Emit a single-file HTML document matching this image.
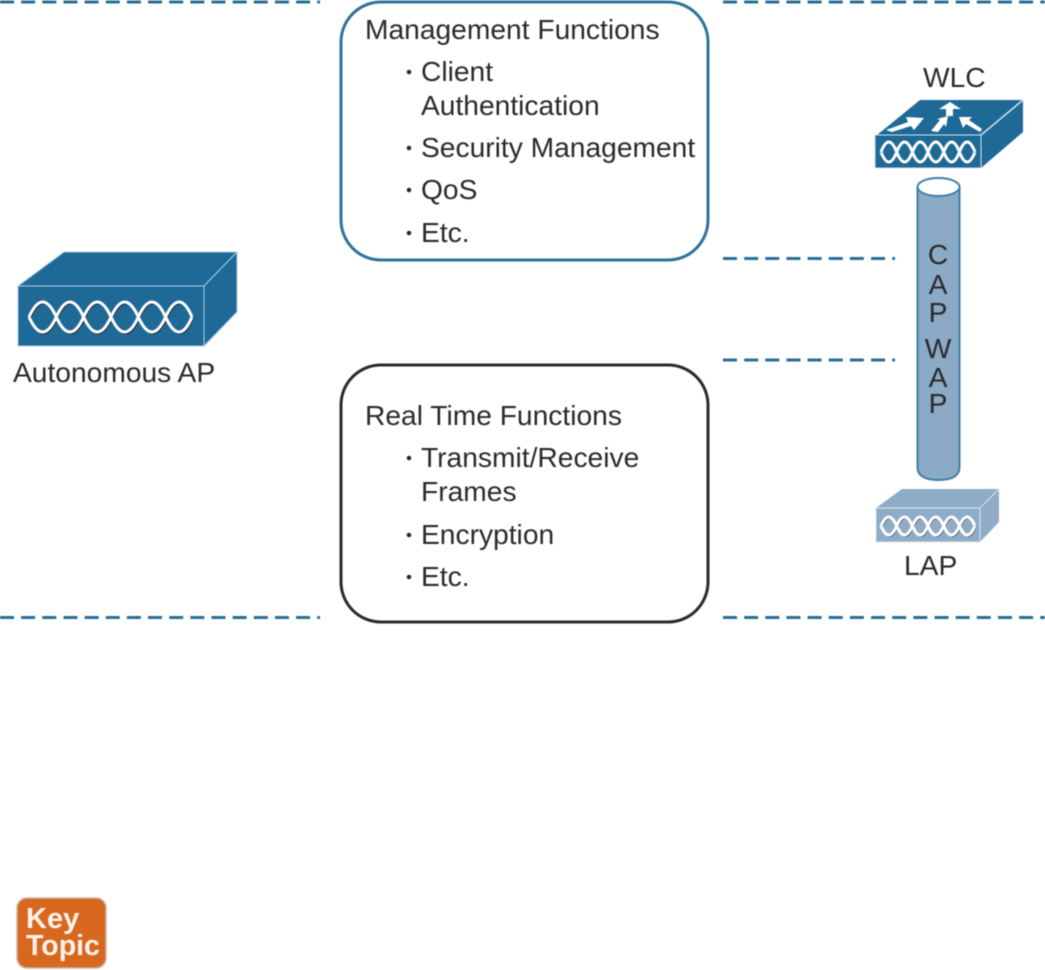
<!DOCTYPE html>
<html><head><meta charset="utf-8"><style>
html,body{margin:0;padding:0;background:#fff;width:1045px;height:970px;overflow:hidden}
svg{display:block;filter:blur(.4px)}
text{font-family:"Liberation Sans",sans-serif;font-size:28.2px;fill:#2a2a2a}
.d{stroke:#2a6d96;stroke-width:3;stroke-dasharray:14 7.15;fill:none}
.w{fill:none;stroke:#fff;stroke-width:3}
.s{fill:none;stroke:#222;stroke-width:1.6}
</style></head><body>
<svg width="1045" height="970" viewBox="0 0 1045 970" xmlns="http://www.w3.org/2000/svg">
<path class="d" d="M0 2H320M723 2H1045M723 258.500H895M723 360H895M0 617.500H320M723 617.500H1045"/>

<rect x="341" y="2" width="367" height="258" rx="40" fill="#fff" stroke="#2f739c" stroke-width="3"/>
<rect x="341" y="365" width="367" height="257" rx="40" fill="#fff" stroke="#2b2b2b" stroke-width="3"/>

<g fill="#2a2a2a">
<circle cx="409" cy="72" r="2.300"/><circle cx="409" cy="148" r="2.300"/><circle cx="409" cy="190" r="2.300"/><circle cx="409" cy="233" r="2.300"/>
<circle cx="409" cy="458" r="2.300"/><circle cx="409" cy="535" r="2.300"/><circle cx="409" cy="577" r="2.300"/>
</g>
<text x="365" y="39">Management Functions</text>
<text x="421" y="81">Client</text>
<text x="421" y="115">Authentication</text>
<text x="421" y="157">Security Management</text>
<text x="421" y="199">QoS</text>
<text x="421" y="242">Etc.</text>

<text x="365" y="425">Real Time Functions</text>
<text x="421" y="467">Transmit/Receive</text>
<text x="421" y="501">Frames</text>
<text x="421" y="544">Encryption</text>
<text x="421" y="586">Etc.</text>

<!-- Autonomous AP -->
<polygon points="18,286 64,252 237,252 204,286" fill="#1f6997" stroke="#a9cfe2" stroke-width="1"/>
<polygon points="204,286 237,252 237,312 204,346" fill="#1f6997" stroke="#a9cfe2" stroke-width="1"/>
<rect x="18" y="286" width="186" height="60" fill="#1f6997" stroke="#a9cfe2" stroke-width="1"/>
<path class="s" transform="translate(1,1.500)" d="M29 317Q42.700 287 56.300 317T83.600 317T111 317T138.300 317T165.600 317T192 317M29 317Q42.700 347 56.300 317T83.600 317T111 317T138.300 317T165.600 317T192 317"/>
<path class="w" d="M29 317Q42.700 287 56.300 317T83.600 317T111 317T138.300 317T165.600 317T192 317M29 317Q42.700 347 56.300 317T83.600 317T111 317T138.300 317T165.600 317T192 317"/>
<text x="13" y="382">Autonomous AP</text>

<!-- WLC -->
<text x="923" y="87">WLC</text>
<polygon points="877,135 920,100 1023,100 981,135" fill="#1f6997"/>
<polygon points="981,135 1023,100 1023,132 981,168" fill="#1f6997"/>
<line x1="981" y1="135" x2="1023" y2="100" stroke="#cfe3ee" stroke-width="1.500"/>
<rect x="875" y="135" width="106" height="33" fill="#1f6997" stroke="#cfe3ee" stroke-width="1"/>
<path class="w" d="M881 152Q888.800 132 896.700 152T912.400 152T928 152T943.700 152T959.400 152T975 152M881 152Q888.800 172 896.700 152T912.400 152T928 152T943.700 152T959.400 152T975 152"/>
<polygon points="886,130 908,122 906,117 924,118 914,130 911,126 892,132" fill="#fff"/>
<polygon points="931,131 940,120 937,119 948,116 946,127 944,124 938,132" fill="#fff"/>
<polygon points="950,102 961,109 953,109 953,116 946,116 946,109 939,109" fill="#fff"/>
<polygon points="959,117 972,117 969,120 982,129 980,132 966,124 963,128" fill="#fff"/>

<!-- Cylinder -->
<path d="M917.500 187V467Q917.500 480 938.500 480Q959.500 480 959.500 467V187Z" fill="#8aaac5" stroke="#3f7ea8" stroke-width="2"/>
<ellipse cx="938.500" cy="187" rx="21" ry="9" fill="#fff" stroke="#3f7ea8" stroke-width="2"/>
<g text-anchor="middle">
<text x="938" y="264">C</text>
<text x="938" y="294">A</text>
<text x="938" y="322">P</text>
<text x="938" y="358">W</text>
<text x="938" y="387">A</text>
<text x="938" y="413">P</text>
</g>

<!-- LAP -->
<polygon points="876,508 902,489 999,489 980,508" fill="#8eacc7"/>
<polygon points="980,508 999,489 999,522 980,542" fill="#8eacc7"/>
<rect x="876" y="508" width="104" height="34" fill="#8eacc7" stroke="#dfe8ef" stroke-width="1"/>
<line x1="980" y1="508" x2="999" y2="489" stroke="#dfe8ef" stroke-width="1"/>
<path class="s" stroke-width="1" transform="translate(.8,1)" d="M881 526Q888.800 508 896.700 526T912.400 526T928 526T943.700 526T959.400 526T975 526M881 526Q888.800 544 896.700 526T912.400 526T928 526T943.700 526T959.400 526T975 526"/>
<path class="w" d="M881 526Q888.800 508 896.700 526T912.400 526T928 526T943.700 526T959.400 526T975 526M881 526Q888.800 544 896.700 526T912.400 526T928 526T943.700 526T959.400 526T975 526"/>
<text x="904" y="575">LAP</text>

<!-- Key Topic -->
<rect x="17" y="898" width="89" height="70" rx="10" fill="#d8681f" stroke="#c9b6a8" stroke-width="1.500"/>
<text x="26" y="928" style="font-weight:bold;fill:#fdf3ea;font-size:29px">Key</text>
<text x="26" y="955" style="font-weight:bold;fill:#fdf3ea;font-size:28.500px">Topic</text>
</svg>
</body></html>
